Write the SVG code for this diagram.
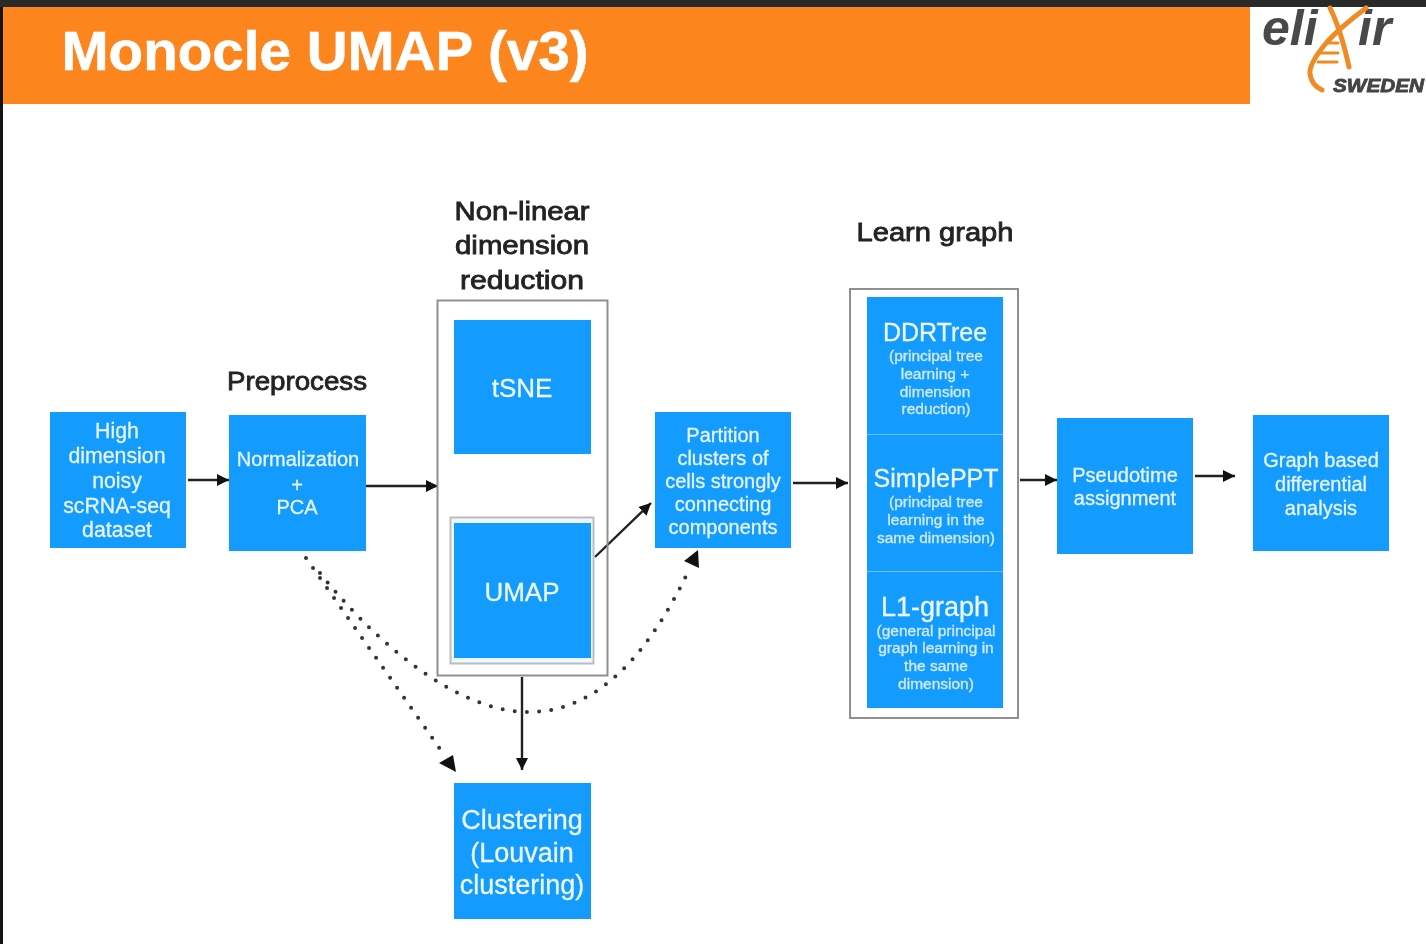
<svg xmlns="http://www.w3.org/2000/svg" width="1426" height="944" viewBox="0 0 1426 944">
<style>
text{font-family:"Liberation Sans",Arial,sans-serif;text-anchor:middle}
.b{fill:#139bfd}
.f{fill:none;stroke:#8f8f8f;stroke-width:2}
.t{fill:#e6f4ff;stroke:#e6f4ff;stroke-width:.3;font-size:20px;filter:url(#soft)}
.hi{font-size:21.3px}
.big{fill:#ecf7ff;stroke:#ecf7ff;stroke-width:.3;font-size:26px;filter:url(#soft)}
.cl{font-size:27px}
.nr{font-size:25px}
.sm{fill:#cfe9fe;stroke:#cfe9fe;stroke-width:.35;font-size:15.5px;filter:url(#soft)}
.h{fill:#222;font-size:25.5px;stroke:#222;stroke-width:.8;filter:url(#soft)}
.a{fill:none;stroke:#222;stroke-width:2.4}
.d{fill:none;stroke:#333;stroke-width:4;stroke-linecap:round;stroke-dasharray:0 12.2}
.hd{fill:#111}
</style>
<defs>
<filter id="soft" x="-5%" y="-10%" width="110%" height="120%"><feGaussianBlur stdDeviation="0.5"/></filter>
<marker id="ah" markerUnits="userSpaceOnUse" markerWidth="14" markerHeight="14" refX="12" refY="6" orient="auto"><path d="M0,0L12,6L0,12z" fill="#111"/></marker>
</defs>
<rect width="1426" height="944" fill="#fff"/>
<g id="frame">
<rect width="1426" height="7" fill="#2a2a2a"/>
<rect y="7" width="3" height="937" fill="#151515"/>
</g>
<g id="banner">
<rect x="3" y="7" width="1247" height="97" fill="#fd851d"/>
<text x="325" y="69.500" textLength="527" lengthAdjust="spacingAndGlyphs" style="font-size:56.4px;font-weight:700;fill:#fff;stroke:#fff;stroke-width:.6" filter="url(#soft)">Monocle UMAP (v3)</text>
</g>
<g id="logo">
<text x="1262" y="45" style="font-size:50px;font-weight:700;font-style:italic;text-anchor:start;fill:#4a4a4c" filter="url(#soft)">eli</text>
<text x="1358" y="45" style="font-size:50px;font-weight:700;font-style:italic;text-anchor:start;fill:#4a4a4c" filter="url(#soft)">ir</text>
<g fill="none" stroke="#f08a24" stroke-linecap="round" filter="url(#soft)">
<path d="M1366,8C1350,20 1336,32 1327,42C1316,55 1309,66 1310,74C1311,82 1315,87 1322,90" stroke-width="5"/>
<path d="M1330,8C1337,22 1344,44 1349,67" stroke-width="5"/>
<path d="M1327,43H1338M1320,53H1338M1318,62H1337" stroke-width="3"/>
</g>
<text x="1333" y="92" textLength="91" lengthAdjust="spacingAndGlyphs" style="font-size:18px;font-weight:700;font-style:italic;text-anchor:start;fill:#444;stroke:#444;stroke-width:.8" filter="url(#soft)">SWEDEN</text>
</g>
<g id="connectors">
<path class="a" d="M188,480H229" marker-end="url(#ah)"/>
<path class="a" d="M366,486H438" marker-end="url(#ah)"/>
<path class="a" d="M595,557L651,503" marker-end="url(#ah)"/>
<path class="a" d="M522,677V770" marker-end="url(#ah)"/>
<path class="a" d="M793,483H848" marker-end="url(#ah)"/>
<path class="a" d="M1020,480H1057" marker-end="url(#ah)"/>
<path class="a" d="M1195,476H1235" marker-end="url(#ah)"/>
<path class="d" d="M306,558L440,749"/>
<path class="d" d="M320,573C365,630 450,712 529,712C600,712 650,650 687,574"/>
<polygon class="hd" points="439,763 453,755 456,772"/>
<polygon class="hd" points="684,561 698,550 699,568"/>
</g>
<g id="node-high">
<rect class="b" x="50" y="412" width="136" height="136"/>
<text class="t hi" x="117" y="438">High</text><text class="t hi" x="117" y="463">dimension</text><text class="t hi" x="117" y="488">noisy</text><text class="t hi" x="117" y="513">scRNA-seq</text><text class="t hi" x="117" y="537">dataset</text>
</g>
<g id="node-preprocess">
<text class="h" x="297" y="390" textLength="140" lengthAdjust="spacingAndGlyphs">Preprocess</text>
<rect class="b" x="229" y="415" width="137" height="136"/>
<text class="t" x="298" y="466">Normalization</text><text class="t" x="297" y="492">+</text><text class="t" x="297" y="514">PCA</text>
</g>
<g id="node-nldr">
<text class="h" x="522" y="220" textLength="135" lengthAdjust="spacingAndGlyphs">Non-linear</text><text class="h" x="522" y="254" textLength="134" lengthAdjust="spacingAndGlyphs">dimension</text><text class="h" x="522" y="289" textLength="124" lengthAdjust="spacingAndGlyphs">reduction</text>
<rect class="f" x="437.500" y="300.500" width="170" height="375"/>
</g>
<g id="node-tsne">
<rect class="b" x="454" y="320" width="137" height="134"/>
<text class="big" x="522" y="397">tSNE</text>
</g>
<g id="node-umap">
<rect x="450.500" y="517.500" width="143" height="146" fill="#eef7ff" stroke="#bdbdbd" stroke-width="2"/>
<rect class="b" x="454" y="523" width="137" height="135"/>
<text class="big" x="522" y="601">UMAP</text>
</g>
<g id="node-partition">
<rect class="b" x="655" y="412" width="136" height="136"/>
<text class="t" x="723" y="442">Partition</text><text class="t" x="723" y="465">clusters of</text><text class="t" x="723" y="488">cells strongly</text><text class="t" x="723" y="511">connecting</text><text class="t" x="723" y="534">components</text>
</g>
<g id="node-learn">
<text class="h" x="935" y="241" textLength="157" lengthAdjust="spacingAndGlyphs">Learn graph</text>
<rect class="f" x="850" y="289" width="168" height="429"/>
<rect class="b" x="867" y="297" width="136" height="411"/>
<path d="M867,434.500H1003M867,571.500H1003" stroke="#6fc3fd" stroke-width="1" fill="none"/>
</g>
<g id="node-ddrtree">
<text class="big nr" x="935" y="341">DDRTree</text>
<text class="sm" x="936" y="361">(principal tree</text><text class="sm" x="935" y="379">learning +</text><text class="sm" x="935" y="397">dimension</text><text class="sm" x="936" y="414">reduction)</text>
</g>
<g id="node-simpleppt">
<text class="big nr" x="936" y="487">SimplePPT</text>
<text class="sm" x="936" y="507">(principal tree</text><text class="sm" x="936" y="525">learning in the</text><text class="sm" x="936" y="543">same dimension)</text>
</g>
<g id="node-l1">
<text class="big cl" x="935" y="616">L1-graph</text>
<text class="sm" x="936" y="636">(general principal</text><text class="sm" x="936" y="653">graph learning in</text><text class="sm" x="936" y="671">the same</text><text class="sm" x="936" y="689">dimension)</text>
</g>
<g id="node-pseudotime">
<rect class="b" x="1057" y="418" width="136" height="136"/>
<text class="t" x="1125" y="482">Pseudotime</text><text class="t" x="1125" y="505">assignment</text>
</g>
<g id="node-graphdiff">
<rect class="b" x="1253" y="415" width="136" height="136"/>
<text class="t" x="1321" y="467">Graph based</text><text class="t" x="1321" y="491">differential</text><text class="t" x="1321" y="515">analysis</text>
</g>
<g id="node-clustering">
<rect class="b" x="454" y="783" width="137" height="136"/>
<text class="big cl" x="522" y="829">Clustering</text><text class="big cl" x="522" y="862">(Louvain</text><text class="big cl" x="522" y="894">clustering)</text>
</g>
</svg>
